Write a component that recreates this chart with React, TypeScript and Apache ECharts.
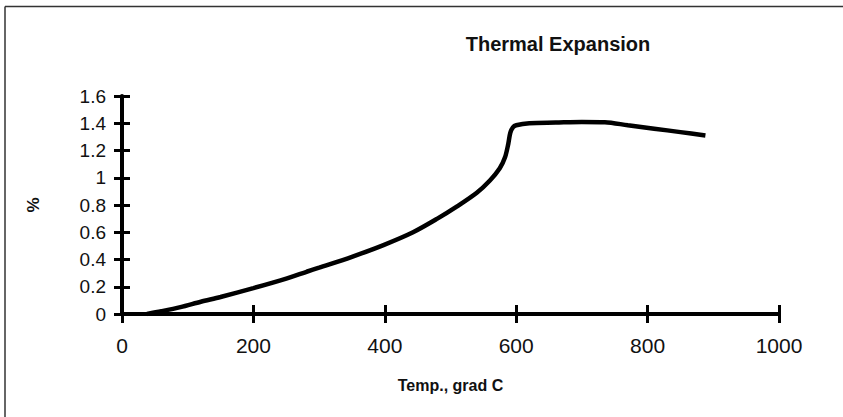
import React, { useEffect, useRef } from "react";
import * as echarts from "echarts";

const temps = [38, 60, 89, 120, 150, 200, 250, 281, 300, 350, 398, 443, 480, 510, 540, 560, 575, 583, 588, 591, 595, 600, 620, 660, 700, 735, 770, 810, 850, 888];
const expansion = [0, 0.02, 0.05, 0.09, 0.125, 0.19, 0.26, 0.31, 0.34, 0.42, 0.506, 0.6, 0.7, 0.79, 0.89, 0.98, 1.07, 1.15, 1.25, 1.33, 1.37, 1.385, 1.4, 1.405, 1.41, 1.408, 1.385, 1.36, 1.335, 1.31];

const chartTitle = "Thermal Expansion";
const xName = "Temp., grad C";
const yName = "%";

export default function App() {
  const ref = useRef<HTMLDivElement>(null);
  useEffect(() => {
    const chart = echarts.init(ref.current!, undefined, { renderer: "svg" });
    const font = "'Liberation Sans', Arial, sans-serif";
    const data = temps.map((t, i) => [t, expansion[i]]);
    const baseX = {
      type: "value",
      min: 0,
      max: 1000,
      interval: 200,
      splitLine: { show: false },
    };
    const baseY = {
      type: "value",
      min: 0,
      max: 1.6,
      interval: 0.2,
      splitLine: { show: false },
    };
    chart.setOption({
      animation: false,
      backgroundColor: "#fff",
      title: {
        text: chartTitle,
        left: 553,
        top: 29,
        textAlign: "center",
        textStyle: { fontFamily: font, fontSize: 20, fontWeight: "bold", color: "#111" },
      },
      grid: { left: 122, right: 64, top: 96, bottom: 103 },
      xAxis: [
        {
          ...baseX,
          position: "bottom",
          name: xName,
          nameLocation: "middle",
          nameGap: 63,
          nameTextStyle: { fontFamily: font, fontSize: 16, fontWeight: "bold", color: "#111" },
          axisLine: { show: true, lineStyle: { color: "#000", width: 4 } },
          axisTick: { show: true, length: 9, lineStyle: { color: "#000", width: 3 } },
          axisLabel: {
            fontFamily: font,
            fontSize: 21,
            color: "#111",
            margin: 21,
            formatter: (v: number) => String(v),
          },
        },
        {
          ...baseX,
          position: "bottom",
          axisLine: { show: false },
          axisTick: { show: true, inside: true, length: 9, lineStyle: { color: "#000", width: 3 } },
          axisLabel: { show: false },
        },
      ],
      yAxis: [
        {
          ...baseY,
          position: "left",
          name: yName,
          nameLocation: "middle",
          nameGap: 80,
          nameRotate: 90,
          nameTextStyle: { fontFamily: font, fontSize: 17, fontWeight: "bold", color: "#111" },
          axisLine: { show: true, lineStyle: { color: "#000", width: 4 } },
          axisTick: { show: true, length: 8, lineStyle: { color: "#000", width: 3 } },
          axisLabel: {
            fontFamily: font,
            fontSize: 19,
            color: "#111",
            margin: 16,
            formatter: (v: number) => String(Math.round(v * 10) / 10),
          },
        },
        {
          ...baseY,
          position: "left",
          axisLine: { show: false },
          axisTick: { show: true, inside: true, length: 8, lineStyle: { color: "#000", width: 3 } },
          axisLabel: { show: false },
        },
      ],
      graphic: [
        { type: "line", shape: { x1: 5, y1: 6.5, x2: 843, y2: 6.5 }, style: { stroke: "#333", lineWidth: 1.5 } },
        { type: "line", shape: { x1: 5, y1: 6.5, x2: 5, y2: 417 }, style: { stroke: "#333", lineWidth: 1.5 } },
      ],
      series: [
        {
          type: "line",
          data,
          xAxisIndex: 0,
          yAxisIndex: 0,
          showSymbol: false,
          smooth: 0.3,
          lineStyle: { color: "#000", width: 4.5 },
        },
      ],
    });
    return () => chart.dispose();
  }, []);
  return <div ref={ref} style={{ width: 843, height: 417, position: "absolute", left: 0, top: 0 }} />;
}
